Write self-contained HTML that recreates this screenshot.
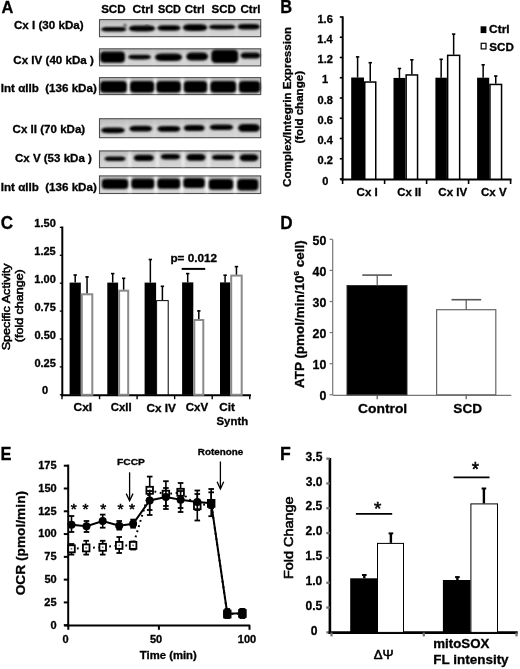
<!DOCTYPE html><html><head><meta charset="utf-8"><style>html,body{margin:0;padding:0;background:#fff;width:520px;height:669px;overflow:hidden}svg{display:block}text{font-family:"Liberation Sans",sans-serif;stroke:#000;stroke-width:0.3px;paint-order:stroke}text[font-weight=normal]{stroke-width:0.55px}</style></head><body>
<svg width="520" height="669" viewBox="0 0 520 669">
<defs><linearGradient id="blotbg" x1="0" y1="0" x2="0" y2="1"><stop offset="0" stop-color="#b8b8b8"/><stop offset="0.35" stop-color="#cccccc"/><stop offset="1" stop-color="#d6d6d6"/></linearGradient><filter id="bl" x="-20%" y="-60%" width="140%" height="220%"><feGaussianBlur stdDeviation="0.85"/></filter><filter id="soft" x="0" y="0" width="100%" height="100%" filterUnits="userSpaceOnUse"><feGaussianBlur stdDeviation="0.45"/></filter><filter id="bl2" x="-100%" y="-20%" width="300%" height="140%"><feGaussianBlur stdDeviation="1.2"/></filter></defs>
<rect width="520" height="669" fill="#fff"/>
<g filter="url(#soft)">
<text x="1.39" y="13.30" font-size="17.246" font-weight="bold" textLength="11.86" lengthAdjust="spacingAndGlyphs" >A</text>
<text x="101.15" y="12.90" font-size="10.6" font-weight="bold" textLength="24.43" lengthAdjust="spacingAndGlyphs" >SCD</text>
<text x="132.52" y="12.90" font-size="10.6" font-weight="bold" textLength="20.75" lengthAdjust="spacingAndGlyphs" >Ctrl</text>
<text x="157.97" y="12.90" font-size="10.6" font-weight="bold" textLength="22.98" lengthAdjust="spacingAndGlyphs" >SCD</text>
<text x="184.84" y="12.90" font-size="10.6" font-weight="bold" textLength="19.79" lengthAdjust="spacingAndGlyphs" >Ctrl</text>
<text x="211.55" y="12.90" font-size="10.6" font-weight="bold" textLength="24.32" lengthAdjust="spacingAndGlyphs" >SCD</text>
<text x="240.54" y="12.90" font-size="10.6" font-weight="bold" textLength="19.90" lengthAdjust="spacingAndGlyphs" >Ctrl</text>
<text x="13.94" y="28.80" font-size="11.2" font-weight="bold" textLength="69.72" lengthAdjust="spacingAndGlyphs" >Cx I (30 kDa)</text>
<rect x="99.50" y="19.60" width="161.20" height="17.10" fill="url(#blotbg)" stroke="#505050" stroke-width="1.1" />
<rect x="126.10" y="20.60" width="3.20" height="15.10" fill="#fafafa" stroke="none" stroke-width="0" opacity="0.12" filter="url(#bl2)"/>
<rect x="154.65" y="20.60" width="3.20" height="15.10" fill="#fafafa" stroke="none" stroke-width="0" opacity="0.12" filter="url(#bl2)"/>
<rect x="180.10" y="20.60" width="3.20" height="15.10" fill="#fafafa" stroke="none" stroke-width="0" opacity="0.12" filter="url(#bl2)"/>
<rect x="206.40" y="20.60" width="3.20" height="15.10" fill="#fafafa" stroke="none" stroke-width="0" opacity="0.12" filter="url(#bl2)"/>
<rect x="235.00" y="20.60" width="3.20" height="15.10" fill="#fafafa" stroke="none" stroke-width="0" opacity="0.12" filter="url(#bl2)"/>
<path d="M100.90,29.30 C102.19,27.57 103.48,27.00 108.64,27.00 L118.96,27.00 C124.12,27.00 125.41,27.57 126.70,29.30 C125.41,31.03 124.12,31.60 118.96,31.60 L108.64,31.60 C103.48,31.60 102.19,31.03 100.90,29.30Z" fill="#000" filter="url(#bl)"/>
<path d="M128.70,28.50 C130.03,26.32 131.36,25.60 136.68,25.60 L147.32,25.60 C152.64,25.60 153.97,26.32 155.30,28.50 C153.97,30.68 152.64,31.40 147.32,31.40 L136.68,31.40 C131.36,31.40 130.03,30.68 128.70,28.50Z" fill="#000" filter="url(#bl)"/>
<path d="M157.20,28.00 C158.38,25.98 159.55,25.30 164.25,25.30 L173.65,25.30 C178.35,25.30 179.53,25.98 180.70,28.00 C179.53,30.02 178.35,30.70 173.65,30.70 L164.25,30.70 C159.55,30.70 158.38,30.02 157.20,28.00Z" fill="#000" filter="url(#bl)"/>
<path d="M182.70,27.60 C183.94,25.05 185.17,24.20 190.11,24.20 L199.99,24.20 C204.93,24.20 206.16,25.05 207.40,27.60 C206.16,30.15 204.93,31.00 199.99,31.00 L190.11,31.00 C185.17,31.00 183.94,30.15 182.70,27.60Z" fill="#000" filter="url(#bl)"/>
<path d="M208.60,27.10 C209.96,25.38 211.32,24.80 216.76,24.80 L227.64,24.80 C233.08,24.80 234.44,25.38 235.80,27.10 C234.44,28.83 233.08,29.40 227.64,29.40 L216.76,29.40 C211.32,29.40 209.96,28.83 208.60,27.10Z" fill="#000" filter="url(#bl)"/>
<path d="M237.40,26.80 C238.53,24.78 239.67,24.10 244.21,24.10 L253.29,24.10 C257.83,24.10 258.97,24.78 260.10,26.80 C258.97,28.82 257.83,29.50 253.29,29.50 L244.21,29.50 C239.67,29.50 238.53,28.82 237.40,26.80Z" fill="#000" filter="url(#bl)"/>
<text x="13.34" y="63.50" font-size="11.2" font-weight="bold" textLength="80.51" lengthAdjust="spacingAndGlyphs" >Cx IV (40 kDa )</text>
<rect x="99.50" y="48.80" width="161.20" height="17.10" fill="url(#blotbg)" stroke="#505050" stroke-width="1.1" />
<rect x="124.85" y="49.80" width="3.20" height="15.10" fill="#fafafa" stroke="none" stroke-width="0" opacity="0.15" filter="url(#bl2)"/>
<rect x="151.40" y="49.80" width="3.20" height="15.10" fill="#fafafa" stroke="none" stroke-width="0" opacity="0.15" filter="url(#bl2)"/>
<rect x="182.60" y="49.80" width="3.20" height="15.10" fill="#fafafa" stroke="none" stroke-width="0" opacity="0.15" filter="url(#bl2)"/>
<rect x="208.10" y="49.80" width="3.20" height="15.10" fill="#fafafa" stroke="none" stroke-width="0" opacity="0.15" filter="url(#bl2)"/>
<rect x="237.75" y="49.80" width="3.20" height="15.10" fill="#fafafa" stroke="none" stroke-width="0" opacity="0.15" filter="url(#bl2)"/>
<rect x="100.20" y="51.40" width="24.70" height="11.40" rx="4.00" ry="3.71" fill="#000" filter="url(#bl)"/>
<path d="M127.90,57.10 C129.06,55.38 130.23,54.80 134.89,54.80 L144.21,54.80 C148.87,54.80 150.04,55.38 151.20,57.10 C150.04,58.83 148.87,59.40 144.21,59.40 L134.89,59.40 C130.23,59.40 129.06,58.83 127.90,57.10Z" fill="#000" filter="url(#bl)"/>
<path d="M154.80,57.30 C156.17,54.45 157.55,53.50 163.05,53.50 L174.05,53.50 C179.55,53.50 180.93,54.45 182.30,57.30 C180.93,60.15 179.55,61.10 174.05,61.10 L163.05,61.10 C157.55,61.10 156.17,60.15 154.80,57.30Z" fill="#000" filter="url(#bl)"/>
<path d="M186.10,56.40 C187.20,53.40 188.31,52.40 192.73,52.40 L201.57,52.40 C205.99,52.40 207.10,53.40 208.20,56.40 C207.10,59.40 205.99,60.40 201.57,60.40 L192.73,60.40 C188.31,60.40 187.20,59.40 186.10,56.40Z" fill="#000" filter="url(#bl)"/>
<rect x="211.30" y="49.80" width="26.90" height="13.20" rx="4.00" ry="4.29" fill="#000" filter="url(#bl)"/>
<path d="M240.40,55.50 C241.41,53.17 242.42,52.40 246.46,52.40 L254.54,52.40 C258.58,52.40 259.59,53.17 260.60,55.50 C259.59,57.83 258.58,58.60 254.54,58.60 L246.46,58.60 C242.42,58.60 241.41,57.83 240.40,55.50Z" fill="#000" filter="url(#bl)"/>
<text x="0.75" y="92.00" font-size="11.2" font-weight="bold" textLength="96.01" lengthAdjust="spacingAndGlyphs" >Int &#945;IIb&#160; (136 kDa)</text>
<rect x="99.50" y="77.60" width="161.20" height="17.00" fill="url(#blotbg)" stroke="#505050" stroke-width="1.1" />
<rect x="126.85" y="78.60" width="3.20" height="15.00" fill="#fafafa" stroke="none" stroke-width="0" opacity="0.95" filter="url(#bl2)"/>
<rect x="153.65" y="78.60" width="3.20" height="15.00" fill="#fafafa" stroke="none" stroke-width="0" opacity="0.95" filter="url(#bl2)"/>
<rect x="180.70" y="78.60" width="3.20" height="15.00" fill="#fafafa" stroke="none" stroke-width="0" opacity="0.95" filter="url(#bl2)"/>
<rect x="207.15" y="78.60" width="3.20" height="15.00" fill="#fafafa" stroke="none" stroke-width="0" opacity="0.95" filter="url(#bl2)"/>
<rect x="235.90" y="78.60" width="3.20" height="15.00" fill="#fafafa" stroke="none" stroke-width="0" opacity="0.95" filter="url(#bl2)"/>
<rect x="100.10" y="81.00" width="26.80" height="11.80" rx="4.00" ry="3.84" fill="#000" filter="url(#bl)"/>
<rect x="130.00" y="81.10" width="24.20" height="11.60" rx="4.00" ry="3.77" fill="#000" filter="url(#bl)"/>
<rect x="156.30" y="81.10" width="24.60" height="11.60" rx="4.00" ry="3.77" fill="#000" filter="url(#bl)"/>
<rect x="183.70" y="81.10" width="23.50" height="11.60" rx="4.00" ry="3.77" fill="#000" filter="url(#bl)"/>
<rect x="210.30" y="81.00" width="25.90" height="11.80" rx="4.00" ry="3.84" fill="#000" filter="url(#bl)"/>
<rect x="238.80" y="81.10" width="21.50" height="11.60" rx="4.00" ry="3.77" fill="#000" filter="url(#bl)"/>
<text x="12.64" y="133.10" font-size="11.2" font-weight="bold" textLength="72.54" lengthAdjust="spacingAndGlyphs" >Cx II (70 kDa)</text>
<rect x="99.50" y="118.70" width="161.20" height="19.00" fill="url(#blotbg)" stroke="#505050" stroke-width="1.1" />
<rect x="125.50" y="119.70" width="3.20" height="17.00" fill="#fafafa" stroke="none" stroke-width="0" opacity="0.12" filter="url(#bl2)"/>
<rect x="153.15" y="119.70" width="3.20" height="17.00" fill="#fafafa" stroke="none" stroke-width="0" opacity="0.12" filter="url(#bl2)"/>
<rect x="180.45" y="119.70" width="3.20" height="17.00" fill="#fafafa" stroke="none" stroke-width="0" opacity="0.12" filter="url(#bl2)"/>
<rect x="205.60" y="119.70" width="3.20" height="17.00" fill="#fafafa" stroke="none" stroke-width="0" opacity="0.12" filter="url(#bl2)"/>
<rect x="234.00" y="119.70" width="3.20" height="17.00" fill="#fafafa" stroke="none" stroke-width="0" opacity="0.12" filter="url(#bl2)"/>
<path d="M100.90,130.30 C102.11,128.12 103.31,127.40 108.13,127.40 L117.77,127.40 C122.59,127.40 123.80,128.12 125.00,130.30 C123.80,132.48 122.59,133.20 117.77,133.20 L108.13,133.20 C103.31,133.20 102.11,132.48 100.90,130.30Z" fill="#000" filter="url(#bl)"/>
<path d="M129.20,128.70 C130.35,126.52 131.51,125.80 136.13,125.80 L145.37,125.80 C149.99,125.80 151.15,126.52 152.30,128.70 C151.15,130.88 149.99,131.60 145.37,131.60 L136.13,131.60 C131.51,131.60 130.35,130.88 129.20,128.70Z" fill="#000" filter="url(#bl)"/>
<path d="M157.20,128.90 C158.36,126.80 159.53,126.10 164.19,126.10 L173.51,126.10 C178.17,126.10 179.34,126.80 180.50,128.90 C179.34,131.00 178.17,131.70 173.51,131.70 L164.19,131.70 C159.53,131.70 158.36,131.00 157.20,128.90Z" fill="#000" filter="url(#bl)"/>
<path d="M183.60,128.00 C184.66,125.67 185.73,124.90 189.99,124.90 L198.51,124.90 C202.77,124.90 203.84,125.67 204.90,128.00 C203.84,130.32 202.77,131.10 198.51,131.10 L189.99,131.10 C185.73,131.10 184.66,130.32 183.60,128.00Z" fill="#000" filter="url(#bl)"/>
<path d="M209.50,127.20 C210.69,125.10 211.88,124.40 216.64,124.40 L226.16,124.40 C230.92,124.40 232.11,125.10 233.30,127.20 C232.11,129.30 230.92,130.00 226.16,130.00 L216.64,130.00 C211.88,130.00 210.69,129.30 209.50,127.20Z" fill="#000" filter="url(#bl)"/>
<path d="M237.90,127.90 C239.01,124.98 240.12,124.00 244.56,124.00 L253.44,124.00 C257.88,124.00 258.99,124.98 260.10,127.90 C258.99,130.83 257.88,131.80 253.44,131.80 L244.56,131.80 C240.12,131.80 239.01,130.83 237.90,127.90Z" fill="#000" filter="url(#bl)"/>
<text x="14.94" y="161.50" font-size="11.2" font-weight="bold" textLength="76.93" lengthAdjust="spacingAndGlyphs" >Cx V (53 kDa )</text>
<rect x="99.50" y="150.90" width="161.20" height="16.80" fill="url(#blotbg)" stroke="#505050" stroke-width="1.1" />
<rect x="128.10" y="151.90" width="3.20" height="14.80" fill="#fafafa" stroke="none" stroke-width="0" opacity="0.6" filter="url(#bl2)"/>
<rect x="155.70" y="151.90" width="3.20" height="14.80" fill="#fafafa" stroke="none" stroke-width="0" opacity="0.6" filter="url(#bl2)"/>
<rect x="181.60" y="151.90" width="3.20" height="14.80" fill="#fafafa" stroke="none" stroke-width="0" opacity="0.6" filter="url(#bl2)"/>
<rect x="207.10" y="151.90" width="3.20" height="14.80" fill="#fafafa" stroke="none" stroke-width="0" opacity="0.6" filter="url(#bl2)"/>
<rect x="235.30" y="151.90" width="3.20" height="14.80" fill="#fafafa" stroke="none" stroke-width="0" opacity="0.6" filter="url(#bl2)"/>
<path d="M104.20,158.70 C105.28,156.97 106.36,156.40 110.68,156.40 L119.32,156.40 C123.64,156.40 124.72,156.97 125.80,158.70 C124.72,160.42 123.64,161.00 119.32,161.00 L110.68,161.00 C106.36,161.00 105.28,160.42 104.20,158.70Z" fill="#000" filter="url(#bl)"/>
<path d="M133.60,157.90 C134.62,155.58 135.64,154.80 139.72,154.80 L147.88,154.80 C151.96,154.80 152.98,155.58 154.00,157.90 C152.98,160.22 151.96,161.00 147.88,161.00 L139.72,161.00 C135.64,161.00 134.62,160.22 133.60,157.90Z" fill="#000" filter="url(#bl)"/>
<path d="M160.60,156.70 C161.59,154.67 162.57,154.00 166.51,154.00 L174.39,154.00 C178.33,154.00 179.31,154.67 180.30,156.70 C179.31,158.72 178.33,159.40 174.39,159.40 L166.51,159.40 C162.57,159.40 161.59,158.72 160.60,156.70Z" fill="#000" filter="url(#bl)"/>
<path d="M186.10,157.40 C187.08,154.93 188.06,154.10 191.98,154.10 L199.82,154.10 C203.74,154.10 204.72,154.93 205.70,157.40 C204.72,159.88 203.74,160.70 199.82,160.70 L191.98,160.70 C188.06,160.70 187.08,159.88 186.10,157.40Z" fill="#000" filter="url(#bl)"/>
<path d="M211.70,157.40 C212.82,155.45 213.95,154.80 218.45,154.80 L227.45,154.80 C231.95,154.80 233.08,155.45 234.20,157.40 C233.08,159.35 231.95,160.00 227.45,160.00 L218.45,160.00 C213.95,160.00 212.82,159.35 211.70,157.40Z" fill="#000" filter="url(#bl)"/>
<path d="M239.60,157.70 C240.54,155.07 241.48,154.20 245.24,154.20 L252.76,154.20 C256.52,154.20 257.46,155.07 258.40,157.70 C257.46,160.32 256.52,161.20 252.76,161.20 L245.24,161.20 C241.48,161.20 240.54,160.32 239.60,157.70Z" fill="#000" filter="url(#bl)"/>
<text x="0.75" y="190.80" font-size="11.2" font-weight="bold" textLength="96.01" lengthAdjust="spacingAndGlyphs" >Int &#945;IIb&#160; (136 kDa)</text>
<rect x="99.50" y="175.90" width="161.20" height="17.60" fill="url(#blotbg)" stroke="#505050" stroke-width="1.1" />
<rect x="128.15" y="176.90" width="3.20" height="15.60" fill="#fafafa" stroke="none" stroke-width="0" opacity="0.95" filter="url(#bl2)"/>
<rect x="154.20" y="176.90" width="3.20" height="15.60" fill="#fafafa" stroke="none" stroke-width="0" opacity="0.95" filter="url(#bl2)"/>
<rect x="180.15" y="176.90" width="3.20" height="15.60" fill="#fafafa" stroke="none" stroke-width="0" opacity="0.95" filter="url(#bl2)"/>
<rect x="205.15" y="176.90" width="3.20" height="15.60" fill="#fafafa" stroke="none" stroke-width="0" opacity="0.95" filter="url(#bl2)"/>
<rect x="233.60" y="176.90" width="3.20" height="15.60" fill="#fafafa" stroke="none" stroke-width="0" opacity="0.95" filter="url(#bl2)"/>
<rect x="101.80" y="179.10" width="26.40" height="9.80" rx="4.00" ry="3.19" fill="#000" filter="url(#bl)"/>
<rect x="131.30" y="178.40" width="23.00" height="10.40" rx="4.00" ry="3.38" fill="#000" filter="url(#bl)"/>
<rect x="157.30" y="178.40" width="22.90" height="10.40" rx="4.00" ry="3.38" fill="#000" filter="url(#bl)"/>
<rect x="183.30" y="178.10" width="21.50" height="10.00" rx="4.00" ry="3.25" fill="#000" filter="url(#bl)"/>
<rect x="208.70" y="179.00" width="24.50" height="10.80" rx="4.00" ry="3.51" fill="#000" filter="url(#bl)"/>
<rect x="237.20" y="179.00" width="21.10" height="11.60" rx="4.00" ry="3.77" fill="#000" filter="url(#bl)"/>
<ellipse cx="125" cy="25.5" rx="1.8" ry="1.1" fill="#222" filter="url(#bl)"/>
<ellipse cx="147" cy="26.2" rx="1.6" ry="1" fill="#222" filter="url(#bl)"/>
<text x="280.33" y="13.40" font-size="17.536" font-weight="bold" textLength="11.84" lengthAdjust="spacingAndGlyphs" >B</text>
<line x1="342.70" y1="16.30" x2="342.70" y2="180.50" stroke="#000" stroke-width="2" />
<line x1="339.80" y1="179.00" x2="342.70" y2="179.00" stroke="#000" stroke-width="1.6" />
<text x="322.24" y="184.50" font-size="10.4" font-weight="bold" textLength="6.13" lengthAdjust="spacingAndGlyphs" >0</text>
<line x1="339.80" y1="158.75" x2="342.70" y2="158.75" stroke="#000" stroke-width="1.6" />
<text x="317.64" y="164.25" font-size="10.4" font-weight="bold" textLength="15.33" lengthAdjust="spacingAndGlyphs" >0.2</text>
<line x1="339.80" y1="138.50" x2="342.70" y2="138.50" stroke="#000" stroke-width="1.6" />
<text x="317.45" y="144.00" font-size="10.4" font-weight="bold" textLength="15.33" lengthAdjust="spacingAndGlyphs" >0.4</text>
<line x1="339.80" y1="118.25" x2="342.70" y2="118.25" stroke="#000" stroke-width="1.6" />
<text x="317.61" y="123.75" font-size="10.4" font-weight="bold" textLength="15.33" lengthAdjust="spacingAndGlyphs" >0.6</text>
<line x1="339.80" y1="98.00" x2="342.70" y2="98.00" stroke="#000" stroke-width="1.6" />
<text x="317.58" y="103.50" font-size="10.4" font-weight="bold" textLength="15.33" lengthAdjust="spacingAndGlyphs" >0.8</text>
<line x1="339.80" y1="77.75" x2="342.70" y2="77.75" stroke="#000" stroke-width="1.6" />
<text x="322.02" y="83.25" font-size="10.4" font-weight="bold" textLength="6.13" lengthAdjust="spacingAndGlyphs" >1</text>
<line x1="339.80" y1="57.50" x2="342.70" y2="57.50" stroke="#000" stroke-width="1.6" />
<text x="317.50" y="63.00" font-size="10.4" font-weight="bold" textLength="15.33" lengthAdjust="spacingAndGlyphs" >1.2</text>
<line x1="339.80" y1="37.25" x2="342.70" y2="37.25" stroke="#000" stroke-width="1.6" />
<text x="317.31" y="42.75" font-size="10.4" font-weight="bold" textLength="15.33" lengthAdjust="spacingAndGlyphs" >1.4</text>
<line x1="339.80" y1="17.00" x2="342.70" y2="17.00" stroke="#000" stroke-width="1.6" />
<text x="317.47" y="22.50" font-size="10.4" font-weight="bold" textLength="15.33" lengthAdjust="spacingAndGlyphs" >1.6</text>
<line x1="340.50" y1="179.60" x2="511.50" y2="179.60" stroke="#000" stroke-width="2" />
<line x1="342.60" y1="179.60" x2="342.60" y2="184.00" stroke="#000" stroke-width="1.6" />
<line x1="384.60" y1="179.60" x2="384.60" y2="184.00" stroke="#000" stroke-width="1.6" />
<line x1="426.60" y1="179.60" x2="426.60" y2="184.00" stroke="#000" stroke-width="1.6" />
<line x1="468.60" y1="179.60" x2="468.60" y2="184.00" stroke="#000" stroke-width="1.6" />
<line x1="510.60" y1="179.60" x2="510.60" y2="184.00" stroke="#000" stroke-width="1.6" />
<text x="356.54" y="196.20" font-size="11" font-weight="bold" textLength="21.26" lengthAdjust="spacingAndGlyphs" >Cx I</text>
<text x="397.25" y="196.20" font-size="11" font-weight="bold" textLength="23.91" lengthAdjust="spacingAndGlyphs" >Cx II</text>
<text x="438.34" y="196.20" font-size="11" font-weight="bold" textLength="28.83" lengthAdjust="spacingAndGlyphs" >Cx IV</text>
<text x="481.04" y="196.20" font-size="11" font-weight="bold" textLength="25.55" lengthAdjust="spacingAndGlyphs" >Cx V</text>
<rect x="351.20" y="77.50" width="12.80" height="102.00" fill="#000" stroke="none" stroke-width="0" />
<rect x="364.75" y="82.05" width="11.00" height="97.20" fill="#fff" stroke="#000" stroke-width="1.5" />
<line x1="357.60" y1="77.50" x2="357.60" y2="56.80" stroke="#000" stroke-width="1.5" />
<line x1="355.90" y1="56.90" x2="359.30" y2="56.90" stroke="#000" stroke-width="1.6" />
<line x1="370.25" y1="81.30" x2="370.25" y2="62.60" stroke="#000" stroke-width="1.5" />
<line x1="368.55" y1="62.70" x2="371.95" y2="62.70" stroke="#000" stroke-width="1.6" />
<rect x="393.50" y="77.90" width="11.90" height="101.60" fill="#000" stroke="none" stroke-width="0" />
<rect x="406.15" y="74.95" width="11.40" height="104.30" fill="#fff" stroke="#000" stroke-width="1.5" />
<line x1="399.45" y1="77.90" x2="399.45" y2="68.40" stroke="#000" stroke-width="1.5" />
<line x1="397.75" y1="68.50" x2="401.15" y2="68.50" stroke="#000" stroke-width="1.6" />
<line x1="411.85" y1="74.20" x2="411.85" y2="59.70" stroke="#000" stroke-width="1.5" />
<line x1="410.15" y1="59.80" x2="413.55" y2="59.80" stroke="#000" stroke-width="1.6" />
<rect x="435.40" y="77.70" width="11.50" height="101.80" fill="#000" stroke="none" stroke-width="0" />
<rect x="447.65" y="55.35" width="12.00" height="123.90" fill="#fff" stroke="#000" stroke-width="1.5" />
<line x1="441.15" y1="77.70" x2="441.15" y2="59.20" stroke="#000" stroke-width="1.5" />
<line x1="439.45" y1="59.30" x2="442.85" y2="59.30" stroke="#000" stroke-width="1.6" />
<line x1="453.65" y1="54.60" x2="453.65" y2="34.00" stroke="#000" stroke-width="1.5" />
<line x1="451.95" y1="34.10" x2="455.35" y2="34.10" stroke="#000" stroke-width="1.6" />
<rect x="477.10" y="77.70" width="12.10" height="101.80" fill="#000" stroke="none" stroke-width="0" />
<rect x="489.95" y="84.45" width="11.60" height="94.80" fill="#fff" stroke="#000" stroke-width="1.5" />
<line x1="483.15" y1="77.70" x2="483.15" y2="64.70" stroke="#000" stroke-width="1.5" />
<line x1="481.45" y1="64.80" x2="484.85" y2="64.80" stroke="#000" stroke-width="1.6" />
<line x1="495.75" y1="83.70" x2="495.75" y2="75.90" stroke="#000" stroke-width="1.5" />
<line x1="494.05" y1="76.00" x2="497.45" y2="76.00" stroke="#000" stroke-width="1.6" />
<rect x="480.60" y="26.30" width="5.80" height="6.80" fill="#000" stroke="none" stroke-width="0" />
<text x="489.12" y="33.10" font-size="10.8" font-weight="bold" textLength="20.54" lengthAdjust="spacingAndGlyphs" >Ctrl</text>
<rect x="481.20" y="43.30" width="4.80" height="5.60" fill="#fff" stroke="#000" stroke-width="1.2" />
<text x="489.25" y="51.20" font-size="10.8" font-weight="bold" textLength="24.53" lengthAdjust="spacingAndGlyphs" >SCD</text>
<text transform="translate(290.70,186.96) rotate(-90)" font-size="11" font-weight="bold" textLength="159.98" lengthAdjust="spacingAndGlyphs">Complex/Integrin Expression</text>
<text transform="translate(303.20,143.58) rotate(-90)" font-size="11" font-weight="bold" textLength="72.63" lengthAdjust="spacingAndGlyphs">(fold change)</text>
<text x="0.82" y="228.62" font-size="17.606" font-weight="bold" textLength="12.35" lengthAdjust="spacingAndGlyphs" >C</text>
<line x1="62.30" y1="226.50" x2="62.30" y2="396.30" stroke="#000" stroke-width="2" />
<line x1="59.80" y1="394.80" x2="62.30" y2="394.80" stroke="#000" stroke-width="1.3" />
<text x="42.14" y="394.40" font-size="10.2" font-weight="bold" textLength="6.13" lengthAdjust="spacingAndGlyphs" >0</text>
<line x1="59.80" y1="366.90" x2="62.30" y2="366.90" stroke="#000" stroke-width="1.3" />
<text x="34.40" y="366.50" font-size="10.2" font-weight="bold" textLength="21.44" lengthAdjust="spacingAndGlyphs" >0.25</text>
<line x1="59.80" y1="339.00" x2="62.30" y2="339.00" stroke="#000" stroke-width="1.3" />
<text x="34.49" y="338.60" font-size="10.2" font-weight="bold" textLength="21.44" lengthAdjust="spacingAndGlyphs" >0.50</text>
<line x1="59.80" y1="311.10" x2="62.30" y2="311.10" stroke="#000" stroke-width="1.3" />
<text x="34.40" y="310.70" font-size="10.2" font-weight="bold" textLength="21.44" lengthAdjust="spacingAndGlyphs" >0.75</text>
<line x1="59.80" y1="283.20" x2="62.30" y2="283.20" stroke="#000" stroke-width="1.3" />
<text x="34.35" y="282.80" font-size="10.2" font-weight="bold" textLength="21.44" lengthAdjust="spacingAndGlyphs" >1.00</text>
<line x1="59.80" y1="255.30" x2="62.30" y2="255.30" stroke="#000" stroke-width="1.3" />
<text x="34.27" y="254.90" font-size="10.2" font-weight="bold" textLength="21.44" lengthAdjust="spacingAndGlyphs" >1.25</text>
<line x1="59.80" y1="227.40" x2="62.30" y2="227.40" stroke="#000" stroke-width="1.3" />
<text x="34.35" y="227.00" font-size="10.2" font-weight="bold" textLength="21.44" lengthAdjust="spacingAndGlyphs" >1.50</text>
<line x1="61.30" y1="395.30" x2="251.00" y2="395.30" stroke="#000" stroke-width="2" />
<line x1="62.00" y1="395.30" x2="62.00" y2="399.20" stroke="#000" stroke-width="1.4" />
<line x1="99.55" y1="395.30" x2="99.55" y2="399.20" stroke="#000" stroke-width="1.4" />
<line x1="137.10" y1="395.30" x2="137.10" y2="399.20" stroke="#000" stroke-width="1.4" />
<line x1="174.65" y1="395.30" x2="174.65" y2="399.20" stroke="#000" stroke-width="1.4" />
<line x1="212.20" y1="395.30" x2="212.20" y2="399.20" stroke="#000" stroke-width="1.4" />
<line x1="249.75" y1="395.30" x2="249.75" y2="399.20" stroke="#000" stroke-width="1.4" />
<text x="73.52" y="411.30" font-size="10.6" font-weight="bold" textLength="18.57" lengthAdjust="spacingAndGlyphs" >CxI</text>
<text x="110.75" y="411.30" font-size="10.6" font-weight="bold" textLength="20.84" lengthAdjust="spacingAndGlyphs" >CxII</text>
<text x="146.43" y="411.50" font-size="10.6" font-weight="bold" textLength="29.44" lengthAdjust="spacingAndGlyphs" >Cx IV</text>
<text x="185.74" y="411.30" font-size="10.6" font-weight="bold" textLength="22.42" lengthAdjust="spacingAndGlyphs" >CxV</text>
<text x="219.23" y="411.30" font-size="10.6" font-weight="bold" textLength="15.62" lengthAdjust="spacingAndGlyphs" >Cit</text>
<text x="216.56" y="424.60" font-size="10.6" font-weight="bold" textLength="31.56" lengthAdjust="spacingAndGlyphs" >Synth</text>
<rect x="69.60" y="282.60" width="11.20" height="112.20" fill="#000" stroke="none" stroke-width="0" />
<rect x="81.80" y="294.30" width="10.50" height="100.50" fill="#fff" stroke="#8a8a8a" stroke-width="2" />
<line x1="75.20" y1="282.60" x2="75.20" y2="274.90" stroke="#000" stroke-width="1.5" />
<line x1="73.50" y1="275.00" x2="76.90" y2="275.00" stroke="#000" stroke-width="1.6" />
<line x1="87.05" y1="293.30" x2="87.05" y2="276.80" stroke="#000" stroke-width="1.5" />
<line x1="85.35" y1="276.90" x2="88.75" y2="276.90" stroke="#000" stroke-width="1.6" />
<rect x="107.30" y="282.60" width="10.80" height="112.20" fill="#000" stroke="none" stroke-width="0" />
<rect x="119.10" y="290.70" width="9.10" height="104.10" fill="#fff" stroke="#8a8a8a" stroke-width="2" />
<line x1="112.70" y1="282.60" x2="112.70" y2="273.50" stroke="#000" stroke-width="1.5" />
<line x1="111.00" y1="273.60" x2="114.40" y2="273.60" stroke="#000" stroke-width="1.6" />
<line x1="123.65" y1="289.70" x2="123.65" y2="278.20" stroke="#000" stroke-width="1.5" />
<line x1="121.95" y1="278.30" x2="125.35" y2="278.30" stroke="#000" stroke-width="1.6" />
<rect x="144.60" y="282.60" width="11.50" height="112.20" fill="#000" stroke="none" stroke-width="0" />
<rect x="156.60" y="300.60" width="11.60" height="94.20" fill="#fff" stroke="#000" stroke-width="1" />
<line x1="150.35" y1="282.60" x2="150.35" y2="259.40" stroke="#000" stroke-width="1.5" />
<line x1="148.65" y1="259.50" x2="152.05" y2="259.50" stroke="#000" stroke-width="1.6" />
<line x1="162.40" y1="300.10" x2="162.40" y2="286.20" stroke="#000" stroke-width="1.5" />
<line x1="160.70" y1="286.30" x2="164.10" y2="286.30" stroke="#000" stroke-width="1.6" />
<rect x="182.10" y="282.40" width="11.20" height="112.40" fill="#000" stroke="none" stroke-width="0" />
<rect x="194.30" y="320.00" width="9.00" height="74.80" fill="#fff" stroke="#8a8a8a" stroke-width="2" />
<line x1="187.70" y1="282.40" x2="187.70" y2="273.50" stroke="#000" stroke-width="1.5" />
<line x1="186.00" y1="273.60" x2="189.40" y2="273.60" stroke="#000" stroke-width="1.6" />
<line x1="198.80" y1="319.00" x2="198.80" y2="310.80" stroke="#000" stroke-width="1.5" />
<line x1="197.10" y1="310.90" x2="200.50" y2="310.90" stroke="#000" stroke-width="1.6" />
<rect x="220.00" y="282.40" width="10.20" height="112.40" fill="#000" stroke="none" stroke-width="0" />
<rect x="231.20" y="275.60" width="10.50" height="119.20" fill="#fff" stroke="#8a8a8a" stroke-width="2" />
<line x1="225.10" y1="282.40" x2="225.10" y2="275.10" stroke="#000" stroke-width="1.5" />
<line x1="223.40" y1="275.20" x2="226.80" y2="275.20" stroke="#000" stroke-width="1.6" />
<line x1="236.45" y1="274.60" x2="236.45" y2="266.50" stroke="#000" stroke-width="1.5" />
<line x1="234.75" y1="266.60" x2="238.15" y2="266.60" stroke="#000" stroke-width="1.6" />
<text x="170.44" y="262.10" font-size="10.6" font-weight="bold" textLength="46.74" lengthAdjust="spacingAndGlyphs" >p= 0.012</text>
<line x1="181.70" y1="268.90" x2="205.20" y2="268.90" stroke="#000" stroke-width="2" />
<text transform="translate(10.30,350.37) rotate(-90)" font-size="11.2" font-weight="normal" textLength="87.05" lengthAdjust="spacingAndGlyphs">Specific Activity</text>
<text transform="translate(23.10,342.15) rotate(-90)" font-size="11.2" font-weight="normal" textLength="72.93" lengthAdjust="spacingAndGlyphs">(fold change)</text>
<text x="280.29" y="228.60" font-size="17.971" font-weight="bold" textLength="12.33" lengthAdjust="spacingAndGlyphs" >D</text>
<line x1="332.70" y1="239.50" x2="332.70" y2="395.30" stroke="#777" stroke-width="1.2" />
<line x1="329.60" y1="394.80" x2="332.70" y2="394.80" stroke="#777" stroke-width="1.2" />
<text x="319.43" y="400.30" font-size="12.5" font-weight="bold" textLength="6.88" lengthAdjust="spacingAndGlyphs" >0</text>
<line x1="329.60" y1="363.70" x2="332.70" y2="363.70" stroke="#777" stroke-width="1.2" />
<text x="312.56" y="369.20" font-size="12.5" font-weight="bold" textLength="13.77" lengthAdjust="spacingAndGlyphs" >10</text>
<line x1="329.60" y1="332.60" x2="332.70" y2="332.60" stroke="#777" stroke-width="1.2" />
<text x="312.56" y="338.10" font-size="12.5" font-weight="bold" textLength="13.77" lengthAdjust="spacingAndGlyphs" >20</text>
<line x1="329.60" y1="301.50" x2="332.70" y2="301.50" stroke="#777" stroke-width="1.2" />
<text x="312.56" y="307.00" font-size="12.5" font-weight="bold" textLength="13.77" lengthAdjust="spacingAndGlyphs" >30</text>
<line x1="329.60" y1="270.40" x2="332.70" y2="270.40" stroke="#777" stroke-width="1.2" />
<text x="312.56" y="275.90" font-size="12.5" font-weight="bold" textLength="13.77" lengthAdjust="spacingAndGlyphs" >40</text>
<line x1="329.60" y1="239.30" x2="332.70" y2="239.30" stroke="#777" stroke-width="1.2" />
<text x="312.56" y="244.80" font-size="12.5" font-weight="bold" textLength="13.77" lengthAdjust="spacingAndGlyphs" >50</text>
<line x1="333.00" y1="395.30" x2="511.30" y2="395.30" stroke="#777" stroke-width="1.2" />
<line x1="377.20" y1="395.30" x2="377.20" y2="399.30" stroke="#666" stroke-width="1.3" />
<line x1="466.20" y1="395.30" x2="466.20" y2="399.30" stroke="#666" stroke-width="1.3" />
<rect x="347.00" y="285.50" width="60.00" height="109.30" fill="#000" stroke="#333" stroke-width="1" />
<rect x="436.60" y="309.70" width="59.20" height="85.10" fill="#fff" stroke="#666" stroke-width="1.2" />
<line x1="377.20" y1="285.50" x2="377.20" y2="275.10" stroke="#555" stroke-width="1.2" />
<line x1="362.30" y1="275.10" x2="392.00" y2="275.10" stroke="#555" stroke-width="1.6" />
<line x1="466.20" y1="309.70" x2="466.20" y2="299.70" stroke="#555" stroke-width="1.2" />
<line x1="451.50" y1="299.70" x2="481.20" y2="299.70" stroke="#555" stroke-width="1.6" />
<text x="357.95" y="412.70" font-size="12.8" font-weight="bold" textLength="49.29" lengthAdjust="spacingAndGlyphs" >Control</text>
<text x="453.39" y="412.70" font-size="12.8" font-weight="bold" textLength="28.67" lengthAdjust="spacingAndGlyphs" >SCD</text>
<text transform="translate(303.8,388.04) rotate(-90) scale(1.0699,1)" font-size="12.6" font-weight="bold">ATP (pmol/min/10<tspan font-size="7.6" dy="-5.2">6</tspan><tspan dy="5.2"> cell)</tspan></text>
<text x="0.43" y="459.60" font-size="17.971" font-weight="bold" textLength="10.98" lengthAdjust="spacingAndGlyphs" >E</text>
<line x1="68.20" y1="464.60" x2="68.20" y2="626.50" stroke="#000" stroke-width="2" />
<line x1="63.80" y1="625.20" x2="68.20" y2="625.20" stroke="#000" stroke-width="2" />
<text x="50.54" y="628.60" font-size="10" font-weight="bold" textLength="6.12" lengthAdjust="spacingAndGlyphs" >0</text>
<line x1="63.80" y1="602.42" x2="68.20" y2="602.42" stroke="#000" stroke-width="2" />
<text x="44.27" y="605.82" font-size="10" font-weight="bold" textLength="12.24" lengthAdjust="spacingAndGlyphs" >25</text>
<line x1="63.80" y1="579.63" x2="68.20" y2="579.63" stroke="#000" stroke-width="2" />
<text x="44.43" y="583.03" font-size="10" font-weight="bold" textLength="12.24" lengthAdjust="spacingAndGlyphs" >50</text>
<line x1="63.80" y1="556.85" x2="68.20" y2="556.85" stroke="#000" stroke-width="2" />
<text x="44.27" y="560.25" font-size="10" font-weight="bold" textLength="12.24" lengthAdjust="spacingAndGlyphs" >75</text>
<line x1="63.80" y1="534.06" x2="68.20" y2="534.06" stroke="#000" stroke-width="2" />
<text x="38.32" y="537.46" font-size="10" font-weight="bold" textLength="18.35" lengthAdjust="spacingAndGlyphs" >100</text>
<line x1="63.80" y1="511.28" x2="68.20" y2="511.28" stroke="#000" stroke-width="2" />
<text x="38.16" y="514.68" font-size="10" font-weight="bold" textLength="18.35" lengthAdjust="spacingAndGlyphs" >125</text>
<line x1="63.80" y1="488.49" x2="68.20" y2="488.49" stroke="#000" stroke-width="2" />
<text x="38.32" y="491.89" font-size="10" font-weight="bold" textLength="18.35" lengthAdjust="spacingAndGlyphs" >150</text>
<line x1="63.80" y1="465.71" x2="68.20" y2="465.71" stroke="#000" stroke-width="2" />
<text x="38.16" y="469.11" font-size="10" font-weight="bold" textLength="18.35" lengthAdjust="spacingAndGlyphs" >175</text>
<line x1="64.30" y1="625.40" x2="250.20" y2="625.40" stroke="#000" stroke-width="2" />
<line x1="68.30" y1="625.40" x2="68.30" y2="629.80" stroke="#000" stroke-width="2" />
<line x1="158.90" y1="625.40" x2="158.90" y2="629.80" stroke="#000" stroke-width="2" />
<line x1="249.50" y1="625.40" x2="249.50" y2="629.80" stroke="#000" stroke-width="2" />
<text x="62.55" y="642.60" font-size="10" font-weight="bold" textLength="6.12" lengthAdjust="spacingAndGlyphs" >0</text>
<text x="149.95" y="642.80" font-size="10" font-weight="bold" textLength="12.24" lengthAdjust="spacingAndGlyphs" >50</text>
<text x="237.80" y="642.80" font-size="10" font-weight="bold" textLength="18.35" lengthAdjust="spacingAndGlyphs" >100</text>
<text x="139.89" y="659.00" font-size="10.4" font-weight="bold" textLength="56.85" lengthAdjust="spacingAndGlyphs" >Time (min)</text>
<text transform="translate(24.70,595.35) rotate(-90)" font-size="13" font-weight="bold" textLength="104.44" lengthAdjust="spacingAndGlyphs">OCR (pmol/min)</text>
<polyline points="71.5,548.8 86.2,547.9 102.7,547.3 119.2,545.4 133.1,545.4 149.7,490.3 165.9,494.2 180.6,492.3 197.3,505.7 211.2,503.4 227.3,614 242.4,613.5" fill="none" stroke="#000" stroke-width="2" stroke-dasharray="1.8 3.6"/>
<line x1="71.50" y1="544.00" x2="71.50" y2="554.60" stroke="#000" stroke-width="1.6" />
<line x1="68.70" y1="544.00" x2="74.30" y2="544.00" stroke="#000" stroke-width="1.8" />
<line x1="68.70" y1="554.60" x2="74.30" y2="554.60" stroke="#000" stroke-width="1.8" />
<rect x="68.20" y="545.30" width="6.60" height="7.00" fill="#fff" stroke="#000" stroke-width="1.8" />
<rect x="70.70" y="548.00" width="1.60" height="1.60" fill="#666" stroke="none" stroke-width="0" />
<line x1="86.20" y1="540.80" x2="86.20" y2="554.60" stroke="#000" stroke-width="1.6" />
<line x1="83.40" y1="540.80" x2="89.00" y2="540.80" stroke="#000" stroke-width="1.8" />
<line x1="83.40" y1="554.60" x2="89.00" y2="554.60" stroke="#000" stroke-width="1.8" />
<rect x="82.90" y="544.40" width="6.60" height="7.00" fill="#fff" stroke="#000" stroke-width="1.8" />
<rect x="85.40" y="547.10" width="1.60" height="1.60" fill="#666" stroke="none" stroke-width="0" />
<line x1="102.70" y1="540.80" x2="102.70" y2="554.60" stroke="#000" stroke-width="1.6" />
<line x1="99.90" y1="540.80" x2="105.50" y2="540.80" stroke="#000" stroke-width="1.8" />
<line x1="99.90" y1="554.60" x2="105.50" y2="554.60" stroke="#000" stroke-width="1.8" />
<rect x="99.40" y="543.80" width="6.60" height="7.00" fill="#fff" stroke="#000" stroke-width="1.8" />
<rect x="101.90" y="546.50" width="1.60" height="1.60" fill="#666" stroke="none" stroke-width="0" />
<line x1="119.20" y1="537.00" x2="119.20" y2="553.00" stroke="#000" stroke-width="1.6" />
<line x1="116.40" y1="537.00" x2="122.00" y2="537.00" stroke="#000" stroke-width="1.8" />
<line x1="116.40" y1="553.00" x2="122.00" y2="553.00" stroke="#000" stroke-width="1.8" />
<rect x="115.90" y="541.90" width="6.60" height="7.00" fill="#fff" stroke="#000" stroke-width="1.8" />
<rect x="118.40" y="544.60" width="1.60" height="1.60" fill="#666" stroke="none" stroke-width="0" />
<line x1="133.10" y1="541.50" x2="133.10" y2="549.50" stroke="#000" stroke-width="1.6" />
<line x1="130.30" y1="541.50" x2="135.90" y2="541.50" stroke="#000" stroke-width="1.8" />
<line x1="130.30" y1="549.50" x2="135.90" y2="549.50" stroke="#000" stroke-width="1.8" />
<rect x="129.80" y="541.90" width="6.60" height="7.00" fill="#fff" stroke="#000" stroke-width="1.8" />
<rect x="132.30" y="544.60" width="1.60" height="1.60" fill="#666" stroke="none" stroke-width="0" />
<line x1="149.70" y1="476.60" x2="149.70" y2="515.00" stroke="#000" stroke-width="1.6" />
<line x1="146.90" y1="476.60" x2="152.50" y2="476.60" stroke="#000" stroke-width="1.8" />
<line x1="146.90" y1="515.00" x2="152.50" y2="515.00" stroke="#000" stroke-width="1.8" />
<rect x="146.40" y="486.80" width="6.60" height="7.00" fill="#fff" stroke="#000" stroke-width="1.8" />
<rect x="148.90" y="489.50" width="1.60" height="1.60" fill="#666" stroke="none" stroke-width="0" />
<line x1="165.90" y1="481.20" x2="165.90" y2="509.00" stroke="#000" stroke-width="1.6" />
<line x1="163.10" y1="481.20" x2="168.70" y2="481.20" stroke="#000" stroke-width="1.8" />
<line x1="163.10" y1="509.00" x2="168.70" y2="509.00" stroke="#000" stroke-width="1.8" />
<rect x="162.60" y="490.70" width="6.60" height="7.00" fill="#fff" stroke="#000" stroke-width="1.8" />
<rect x="165.10" y="493.40" width="1.60" height="1.60" fill="#666" stroke="none" stroke-width="0" />
<line x1="180.60" y1="483.00" x2="180.60" y2="512.00" stroke="#000" stroke-width="1.6" />
<line x1="177.80" y1="483.00" x2="183.40" y2="483.00" stroke="#000" stroke-width="1.8" />
<line x1="177.80" y1="512.00" x2="183.40" y2="512.00" stroke="#000" stroke-width="1.8" />
<rect x="177.30" y="488.80" width="6.60" height="7.00" fill="#fff" stroke="#000" stroke-width="1.8" />
<rect x="179.80" y="491.50" width="1.60" height="1.60" fill="#666" stroke="none" stroke-width="0" />
<line x1="197.30" y1="490.50" x2="197.30" y2="520.50" stroke="#000" stroke-width="1.6" />
<line x1="194.50" y1="490.50" x2="200.10" y2="490.50" stroke="#000" stroke-width="1.8" />
<line x1="194.50" y1="520.50" x2="200.10" y2="520.50" stroke="#000" stroke-width="1.8" />
<rect x="194.00" y="502.20" width="6.60" height="7.00" fill="#fff" stroke="#000" stroke-width="1.8" />
<rect x="196.50" y="504.90" width="1.60" height="1.60" fill="#666" stroke="none" stroke-width="0" />
<line x1="211.20" y1="489.00" x2="211.20" y2="508.00" stroke="#000" stroke-width="1.6" />
<line x1="208.40" y1="489.00" x2="214.00" y2="489.00" stroke="#000" stroke-width="1.8" />
<line x1="208.40" y1="508.00" x2="214.00" y2="508.00" stroke="#000" stroke-width="1.8" />
<rect x="207.90" y="499.90" width="6.60" height="7.00" fill="#fff" stroke="#000" stroke-width="1.8" />
<rect x="210.40" y="502.60" width="1.60" height="1.60" fill="#666" stroke="none" stroke-width="0" />
<line x1="227.30" y1="610.00" x2="227.30" y2="618.00" stroke="#000" stroke-width="1.6" />
<line x1="224.50" y1="610.00" x2="230.10" y2="610.00" stroke="#000" stroke-width="1.8" />
<line x1="224.50" y1="618.00" x2="230.10" y2="618.00" stroke="#000" stroke-width="1.8" />
<rect x="224.00" y="610.50" width="6.60" height="7.00" fill="#fff" stroke="#000" stroke-width="1.8" />
<rect x="226.50" y="613.20" width="1.60" height="1.60" fill="#666" stroke="none" stroke-width="0" />
<line x1="242.40" y1="609.00" x2="242.40" y2="618.00" stroke="#000" stroke-width="1.6" />
<line x1="239.60" y1="609.00" x2="245.20" y2="609.00" stroke="#000" stroke-width="1.8" />
<line x1="239.60" y1="618.00" x2="245.20" y2="618.00" stroke="#000" stroke-width="1.8" />
<rect x="239.10" y="610.00" width="6.60" height="7.00" fill="#fff" stroke="#000" stroke-width="1.8" />
<rect x="241.60" y="612.70" width="1.60" height="1.60" fill="#666" stroke="none" stroke-width="0" />
<polyline points="71.5,524.8 86.5,526.2 102.7,521 119.2,525.8 133.1,523.8 149.7,500.4 165.9,497 180.6,499.7 197.3,502 211.2,503.2 227.3,613.7 242.4,613.3" fill="none" stroke="#000" stroke-width="2"/>
<line x1="71.50" y1="516.00" x2="71.50" y2="532.00" stroke="#000" stroke-width="1.6" />
<line x1="68.70" y1="516.00" x2="74.30" y2="516.00" stroke="#000" stroke-width="1.8" />
<line x1="68.70" y1="532.00" x2="74.30" y2="532.00" stroke="#000" stroke-width="1.8" />
<circle cx="71.5" cy="524.8" r="4" fill="#000"/>
<line x1="86.50" y1="521.00" x2="86.50" y2="532.00" stroke="#000" stroke-width="1.6" />
<line x1="83.70" y1="521.00" x2="89.30" y2="521.00" stroke="#000" stroke-width="1.8" />
<line x1="83.70" y1="532.00" x2="89.30" y2="532.00" stroke="#000" stroke-width="1.8" />
<circle cx="86.5" cy="526.2" r="4" fill="#000"/>
<line x1="102.70" y1="514.60" x2="102.70" y2="527.70" stroke="#000" stroke-width="1.6" />
<line x1="99.90" y1="514.60" x2="105.50" y2="514.60" stroke="#000" stroke-width="1.8" />
<line x1="99.90" y1="527.70" x2="105.50" y2="527.70" stroke="#000" stroke-width="1.8" />
<circle cx="102.7" cy="521" r="4" fill="#000"/>
<line x1="119.20" y1="521.00" x2="119.20" y2="529.60" stroke="#000" stroke-width="1.6" />
<line x1="116.40" y1="521.00" x2="122.00" y2="521.00" stroke="#000" stroke-width="1.8" />
<line x1="116.40" y1="529.60" x2="122.00" y2="529.60" stroke="#000" stroke-width="1.8" />
<circle cx="119.2" cy="525.8" r="4" fill="#000"/>
<line x1="133.10" y1="519.60" x2="133.10" y2="527.70" stroke="#000" stroke-width="1.6" />
<line x1="130.30" y1="519.60" x2="135.90" y2="519.60" stroke="#000" stroke-width="1.8" />
<line x1="130.30" y1="527.70" x2="135.90" y2="527.70" stroke="#000" stroke-width="1.8" />
<circle cx="133.1" cy="523.8" r="4" fill="#000"/>
<line x1="149.70" y1="491.00" x2="149.70" y2="510.00" stroke="#000" stroke-width="1.6" />
<line x1="146.90" y1="491.00" x2="152.50" y2="491.00" stroke="#000" stroke-width="1.8" />
<line x1="146.90" y1="510.00" x2="152.50" y2="510.00" stroke="#000" stroke-width="1.8" />
<circle cx="149.7" cy="500.4" r="4" fill="#000"/>
<line x1="165.90" y1="488.00" x2="165.90" y2="506.00" stroke="#000" stroke-width="1.6" />
<line x1="163.10" y1="488.00" x2="168.70" y2="488.00" stroke="#000" stroke-width="1.8" />
<line x1="163.10" y1="506.00" x2="168.70" y2="506.00" stroke="#000" stroke-width="1.8" />
<circle cx="165.9" cy="497" r="4" fill="#000"/>
<line x1="180.60" y1="491.00" x2="180.60" y2="508.00" stroke="#000" stroke-width="1.6" />
<line x1="177.80" y1="491.00" x2="183.40" y2="491.00" stroke="#000" stroke-width="1.8" />
<line x1="177.80" y1="508.00" x2="183.40" y2="508.00" stroke="#000" stroke-width="1.8" />
<circle cx="180.6" cy="499.7" r="4" fill="#000"/>
<line x1="197.30" y1="494.00" x2="197.30" y2="510.00" stroke="#000" stroke-width="1.6" />
<line x1="194.50" y1="494.00" x2="200.10" y2="494.00" stroke="#000" stroke-width="1.8" />
<line x1="194.50" y1="510.00" x2="200.10" y2="510.00" stroke="#000" stroke-width="1.8" />
<circle cx="197.3" cy="502" r="4" fill="#000"/>
<line x1="211.20" y1="492.30" x2="211.20" y2="516.20" stroke="#000" stroke-width="1.6" />
<line x1="208.40" y1="492.30" x2="214.00" y2="492.30" stroke="#000" stroke-width="1.8" />
<line x1="208.40" y1="516.20" x2="214.00" y2="516.20" stroke="#000" stroke-width="1.8" />
<rect x="207.40" y="499.40" width="7.60" height="7.60" fill="#000" stroke="none" stroke-width="0" />
<line x1="227.30" y1="609.00" x2="227.30" y2="617.50" stroke="#000" stroke-width="1.6" />
<line x1="224.50" y1="609.00" x2="230.10" y2="609.00" stroke="#000" stroke-width="1.8" />
<line x1="224.50" y1="617.50" x2="230.10" y2="617.50" stroke="#000" stroke-width="1.8" />
<circle cx="227.3" cy="613.7" r="4" fill="#000"/>
<line x1="242.40" y1="609.00" x2="242.40" y2="617.50" stroke="#000" stroke-width="1.6" />
<line x1="239.60" y1="609.00" x2="245.20" y2="609.00" stroke="#000" stroke-width="1.8" />
<line x1="239.60" y1="617.50" x2="245.20" y2="617.50" stroke="#000" stroke-width="1.8" />
<rect x="238.60" y="609.50" width="7.60" height="7.60" fill="#000" stroke="none" stroke-width="0" />
<text x="70.79" y="513.55" font-size="14.857" font-weight="normal" textLength="6.00" lengthAdjust="spacingAndGlyphs" >*</text>
<text x="82.59" y="513.55" font-size="14.857" font-weight="normal" textLength="6.00" lengthAdjust="spacingAndGlyphs" >*</text>
<text x="100.29" y="513.55" font-size="14.857" font-weight="normal" textLength="6.00" lengthAdjust="spacingAndGlyphs" >*</text>
<text x="117.59" y="513.55" font-size="14.857" font-weight="normal" textLength="6.00" lengthAdjust="spacingAndGlyphs" >*</text>
<text x="129.09" y="513.55" font-size="14.857" font-weight="normal" textLength="6.00" lengthAdjust="spacingAndGlyphs" >*</text>
<text x="117.14" y="465.20" font-size="9" font-weight="bold" textLength="27.79" lengthAdjust="spacingAndGlyphs" >FCCP</text>
<line x1="129.60" y1="472.30" x2="129.60" y2="500.50" stroke="#000" stroke-width="1.3" />
<polyline points="126.2,493.6 129.6,500.8 133,493.6" fill="none" stroke="#000" stroke-width="1.3"/>
<text x="197.86" y="455.40" font-size="9.2" font-weight="bold" textLength="45.50" lengthAdjust="spacingAndGlyphs" >Rotenone</text>
<line x1="220.40" y1="461.50" x2="220.40" y2="488.60" stroke="#000" stroke-width="1.3" />
<polyline points="217.1,481.8 220.4,488.9 223.7,481.8" fill="none" stroke="#000" stroke-width="1.3"/>
<text x="280.05" y="459.60" font-size="17.826" font-weight="bold" textLength="10.78" lengthAdjust="spacingAndGlyphs" >F</text>
<line x1="329.90" y1="458.00" x2="329.90" y2="633.50" stroke="#000" stroke-width="2.6" />
<line x1="326.30" y1="632.40" x2="329.90" y2="632.40" stroke="#707070" stroke-width="2.2" />
<text x="310.64" y="634.60" font-size="12.6" font-weight="bold" textLength="6.73" lengthAdjust="spacingAndGlyphs" >0</text>
<line x1="326.30" y1="607.57" x2="329.90" y2="607.57" stroke="#707070" stroke-width="2.2" />
<text x="305.50" y="609.77" font-size="12.6" font-weight="bold" textLength="16.82" lengthAdjust="spacingAndGlyphs" >0.5</text>
<line x1="326.30" y1="582.75" x2="329.90" y2="582.75" stroke="#707070" stroke-width="2.2" />
<text x="305.44" y="584.95" font-size="12.6" font-weight="bold" textLength="16.82" lengthAdjust="spacingAndGlyphs" >1.0</text>
<line x1="326.30" y1="557.92" x2="329.90" y2="557.92" stroke="#707070" stroke-width="2.2" />
<text x="305.35" y="560.12" font-size="12.6" font-weight="bold" textLength="16.82" lengthAdjust="spacingAndGlyphs" >1.5</text>
<line x1="326.30" y1="533.10" x2="329.90" y2="533.10" stroke="#707070" stroke-width="2.2" />
<text x="305.62" y="535.30" font-size="12.6" font-weight="bold" textLength="16.82" lengthAdjust="spacingAndGlyphs" >2.0</text>
<line x1="326.30" y1="508.27" x2="329.90" y2="508.27" stroke="#707070" stroke-width="2.2" />
<text x="305.53" y="510.47" font-size="12.6" font-weight="bold" textLength="16.82" lengthAdjust="spacingAndGlyphs" >2.5</text>
<line x1="326.30" y1="483.45" x2="329.90" y2="483.45" stroke="#707070" stroke-width="2.2" />
<text x="305.68" y="485.65" font-size="12.6" font-weight="bold" textLength="16.82" lengthAdjust="spacingAndGlyphs" >3.0</text>
<line x1="326.30" y1="458.62" x2="329.90" y2="458.62" stroke="#707070" stroke-width="2.2" />
<text x="305.59" y="460.82" font-size="12.6" font-weight="bold" textLength="16.82" lengthAdjust="spacingAndGlyphs" >3.5</text>
<line x1="328.50" y1="632.60" x2="517.70" y2="632.60" stroke="#000" stroke-width="2.6" />
<line x1="331.50" y1="632.60" x2="331.50" y2="636.40" stroke="#707070" stroke-width="2.2" />
<line x1="423.80" y1="632.60" x2="423.80" y2="636.40" stroke="#707070" stroke-width="2.2" />
<line x1="516.50" y1="632.60" x2="516.50" y2="636.40" stroke="#707070" stroke-width="2.2" />
<rect x="350.20" y="578.30" width="26.80" height="54.10" fill="#000" stroke="none" stroke-width="0" />
<rect x="377.50" y="543.40" width="26.00" height="89.00" fill="#fff" stroke="#000" stroke-width="1" />
<rect x="442.90" y="580.00" width="27.50" height="52.40" fill="#000" stroke="none" stroke-width="0" />
<rect x="470.90" y="503.90" width="26.60" height="128.50" fill="#fff" stroke="#000" stroke-width="1" />
<line x1="364.30" y1="578.30" x2="364.30" y2="574.60" stroke="#000" stroke-width="2.4" />
<line x1="362.00" y1="575.00" x2="366.60" y2="575.00" stroke="#000" stroke-width="2" />
<line x1="390.90" y1="542.90" x2="390.90" y2="533.00" stroke="#000" stroke-width="2.4" />
<line x1="388.60" y1="533.40" x2="393.20" y2="533.40" stroke="#000" stroke-width="2" />
<line x1="457.40" y1="580.00" x2="457.40" y2="576.70" stroke="#000" stroke-width="2.4" />
<line x1="455.10" y1="577.10" x2="459.70" y2="577.10" stroke="#000" stroke-width="2" />
<line x1="483.90" y1="503.40" x2="483.90" y2="488.10" stroke="#000" stroke-width="2.4" />
<line x1="481.60" y1="488.50" x2="486.20" y2="488.50" stroke="#000" stroke-width="2" />
<line x1="355.90" y1="513.90" x2="392.20" y2="513.90" stroke="#000" stroke-width="1.6" />
<line x1="453.60" y1="477.40" x2="489.50" y2="477.40" stroke="#000" stroke-width="1.6" />
<text x="373.92" y="514.72" font-size="17.714" font-weight="normal" textLength="7.34" lengthAdjust="spacingAndGlyphs" >*</text>
<text x="471.73" y="475.50" font-size="19.714" font-weight="normal" textLength="7.23" lengthAdjust="spacingAndGlyphs" >*</text>
<text x="373.70" y="658.60" font-size="12.8" font-weight="normal" textLength="19.90" lengthAdjust="spacingAndGlyphs" >&#916;&#936;</text>
<text x="433.34" y="648.00" font-size="12.6" font-weight="bold" textLength="56.03" lengthAdjust="spacingAndGlyphs" >mitoSOX</text>
<text x="433.33" y="664.00" font-size="12.6" font-weight="bold" textLength="75.29" lengthAdjust="spacingAndGlyphs" >FL intensity</text>
<text transform="translate(293.00,579.06) rotate(-90)" font-size="12.4" font-weight="normal" textLength="82.72" lengthAdjust="spacingAndGlyphs">Fold Change</text>
</g>
</svg></body></html>
